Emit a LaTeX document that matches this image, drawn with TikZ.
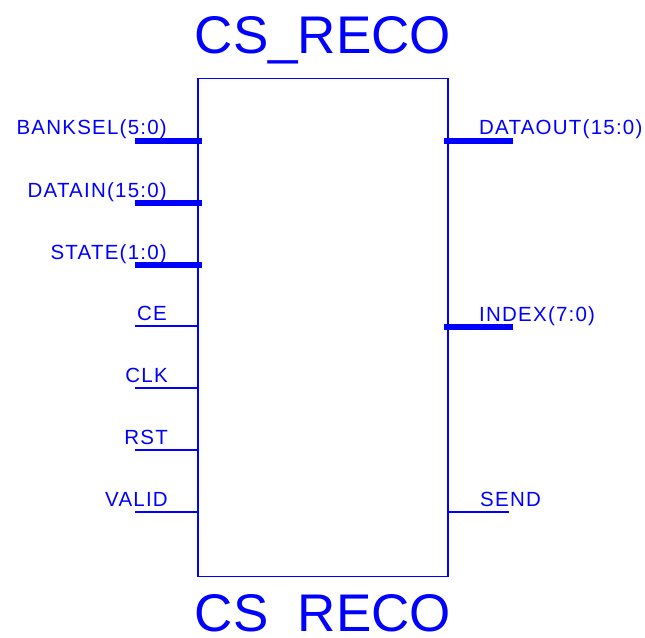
\documentclass[tikz,border=0pt]{standalone}
\usepackage{fontspec}
\setmainfont{Liberation Sans}
\newfontfamily\pinfont[LetterSpace=6]{Liberation Sans}
\newfontfamily\titlefont{Liberation Sans}
\definecolor{pinblue}{RGB}{0,0,255}
\begin{document}
\begin{tikzpicture}[x=1pt,y=-1pt,
  boxst/.style={draw=pinblue, line width=1.6pt, minimum width=250pt, minimum height=498pt, inner sep=0pt},
  thin/.style={draw=pinblue, line width=1.6pt},
  bus/.style={draw=pinblue, line width=6.5pt},
  lbl/.style={text=pinblue, inner sep=0pt, font=\pinfont\fontsize{20.5}{21}\selectfont},
  ttl/.style={text=pinblue, inner sep=0pt, anchor=base, font=\titlefont\fontsize{53}{53}\selectfont}]
\useasboundingbox (0,0) rectangle (645,637);
\clip (0,0) rectangle (645,637);
\fill[white] (0,0) rectangle (645,637);
\node[boxst] (box) at (323,327.5) {};
\node[ttl] (t1) at (323,53) {CS\_RECO};
\node[ttl] (t2) at (323,631) {CS\_RECO};
% left pins
\coordinate (a1) at (135,141);
\coordinate (a2) at (135,203);
\coordinate (a3) at (135,265);
\coordinate (a4) at (135,326);
\coordinate (a5) at (135,388);
\coordinate (a6) at (135,450);
\coordinate (a7) at (135,512);
\draw[bus] (a1) -- ([xshift=5pt]a1 -| box.west);
\draw[bus] (a2) -- ([xshift=5pt]a2 -| box.west);
\draw[bus] (a3) -- ([xshift=5pt]a3 -| box.west);
\draw[thin] (a4) -- (a4 -| box.west);
\draw[thin] (a5) -- (a5 -| box.west);
\draw[thin] (a6) -- (a6 -| box.west);
\draw[thin] (a7) -- (a7 -| box.west);
\node[lbl, anchor=base east] (la1) at (167,134) {BANKSEL(5:0)};
\node[lbl, anchor=base east] (la2) at (167,197) {DATAIN(15:0)};
\node[lbl, anchor=base east] (la3) at (167,259) {STATE(1:0)};
\node[lbl, anchor=base east] (la4) at (167,320) {CE};
\node[lbl, anchor=base east] (la5) at (168,382) {CLK};
\node[lbl, anchor=base east] (la6) at (168,444) {RST};
\node[lbl, anchor=base east] (la7) at (168,506) {VALID};
% right pins
\coordinate (b1) at (513,141);
\coordinate (b2) at (513,327);
\coordinate (b3) at (509,512);
\draw[bus] (b1) -- ([xshift=-5pt]b1 -| box.east);
\draw[bus] (b2) -- ([xshift=-5pt]b2 -| box.east);
\draw[thin] (b3) -- (b3 -| box.east);
\node[lbl, anchor=base west] (lb1) at (479,134) {DATAOUT(15:0)};
\node[lbl, anchor=base west] (lb2) at (479,321) {INDEX(7:0)};
\node[lbl, anchor=base west] (lb3) at (480,506) {SEND};
\end{tikzpicture}
\end{document}
